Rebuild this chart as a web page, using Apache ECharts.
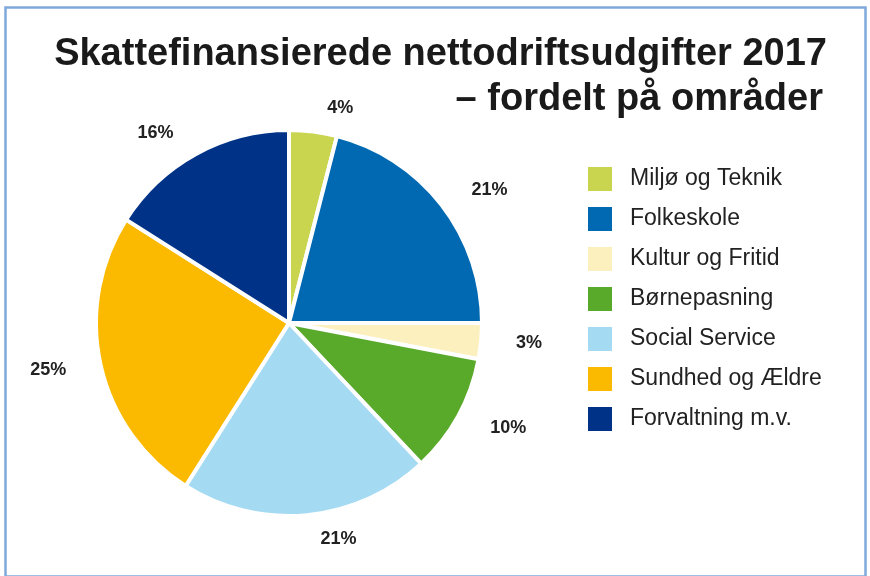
<!DOCTYPE html>
<html>
<head>
<meta charset="utf-8">
<script src="https://cdn.jsdelivr.net/npm/echarts@6/dist/echarts.min.js"></script>
<style>
  html, body { margin: 0; padding: 0; background: #fff; }
  #chart { width: 870px; height: 576px; }
</style>
</head>
<body>
<div id="chart"></div>
<script>
// areas and their share in percent (clockwise from the top)
const categories = ['Miljø og Teknik', 'Folkeskole', 'Kultur og Fritid', 'Børnepasning',
  'Social Service', 'Sundhed og Ældre', 'Forvaltning m.v.']
const shares = [4, 21, 3, 10, 21, 25, 16]
const colors = ['#c9d54f', '#0069b2', '#fdf0bf', '#59aa2b', '#a5daf3', '#fbba00', '#003387']
const titleLines = ['Skattefinansierede nettodriftsudgifter 2017', '– fordelt på områder']

const chart = echarts.init(document.getElementById('chart'))

const titleStyle = {
  fontFamily: 'Liberation Sans', fontWeight: 'bold', fontSize: 38, color: '#1a1a1a',
}

chart.setOption({
  animation: false,
  color: colors,
  title: [
    { text: titleLines[0], right: 43, top: 36, padding: 0, textStyle: titleStyle },
    { text: titleLines[1], right: 47, top: 81, padding: 0, textStyle: titleStyle },
  ],
  legend: {
    orient: 'vertical',
    left: 581, top: 160,
    itemWidth: 26, itemHeight: 26, itemGap: 12,
    icon: 'rect',
    textStyle: { fontFamily: 'Liberation Sans', fontSize: 23, color: '#222', padding: [0, 0, 0, 12] },
    data: categories,
  },
  graphic: [{
    type: 'rect', left: 3, top: 5, silent: true,
    shape: { width: 860, height: 569 },
    style: { fill: 'none', stroke: '#7fa9dc', lineWidth: 2.5 },
  }],
  series: [{
    type: 'pie',
    center: [289, 323],
    radius: 193,
    startAngle: 90,
    clockwise: true,
    itemStyle: { borderColor: '#fff', borderWidth: 4 },
    label: {
      show: true, position: 'outside',
      formatter: '{c}%',
      fontFamily: 'Liberation Sans', fontWeight: 'bold', fontSize: 18, color: '#222',
    },
    labelLine: { show: false, length: 24, length2: 6 },
    data: categories.map((name, i) => ({ name, value: shares[i] })),
  }],
})
</script>
</body>
</html>
